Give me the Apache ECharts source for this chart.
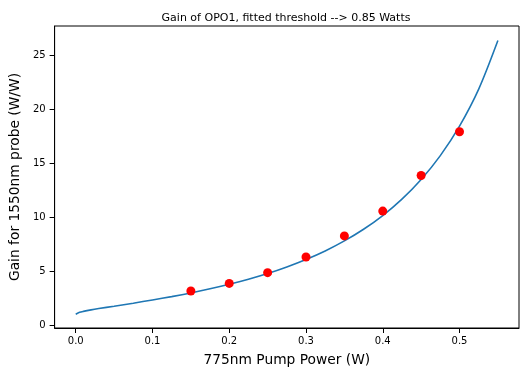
<!DOCTYPE html>
<html>
<head>
<meta charset="utf-8">
<script src="https://cdn.jsdelivr.net/npm/echarts@6/dist/echarts.min.js"></script>
<style>
  html, body { margin: 0; padding: 0; background: #fff; }
  #chart { width: 532px; height: 377px; }
</style>
</head>
<body>
<div id="chart"></div>
<script>
// fitted curve
const fitPower = [0, 0.005, 0.01, 0.02, 0.03, 0.05, 0.075, 0.1, 0.125, 0.15, 0.175, 0.2, 0.225,
  0.25, 0.275, 0.3, 0.325, 0.35, 0.375, 0.4, 0.425, 0.45, 0.475, 0.5, 0.525, 0.55]
const fitGain = [1.0, 1.17, 1.26, 1.4, 1.52, 1.74, 2.02, 2.32, 2.63, 2.97, 3.35, 3.77, 4.24,
  4.77, 5.38, 6.07, 6.86, 7.79, 8.87, 10.14, 11.66, 13.48, 15.69, 18.42, 21.85, 26.35]

// measured points
const measPower = [0.15, 0.2, 0.25, 0.3, 0.35, 0.4, 0.45, 0.5]
const measGain = [3.15, 3.85, 4.85, 6.3, 8.25, 10.55, 13.85, 17.9]

const xTicks = [0, 0.1, 0.2, 0.3, 0.4, 0.5]
const yTicks = [0, 5, 10, 15, 20, 25]

const font = 'DejaVu Sans'
const chart = echarts.init(document.getElementById('chart'))

chart.setOption({
  animation: false,
  title: {
    text: 'Gain of OPO1, fitted threshold --> 0.85 Watts',
    left: 281,
    top: 8,
    textAlign: 'center',
    textStyle: { fontFamily: font, fontSize: 11, fontWeight: 'normal', color: '#000' }
  },
  grid: {
    left: 54, right: 13, top: 26, bottom: 49,
    show: true, borderColor: '#000', borderWidth: 1
  },
  xAxis: {
    type: 'value',
    min: -0.0275,
    max: 0.5775,
    name: '775nm Pump Power (W)',
    nameLocation: 'middle',
    nameGap: 25,
    nameTextStyle: { fontFamily: font, fontSize: 13.8, color: '#000' },
    axisLine: { show: true, onZero: false, lineStyle: { color: '#000' } },
    axisTick: { show: true, length: 5, lineStyle: { color: '#000' }, customValues: xTicks },
    axisLabel: {
      fontFamily: font, fontSize: 10, color: '#000', margin: 8,
      customValues: xTicks,
      formatter: v => v.toFixed(1)
    },
    splitLine: { show: false }
  },
  yAxis: {
    type: 'value',
    min: -0.28,
    max: 27.7,
    name: 'Gain for 1550nm probe (W/W)',
    nameLocation: 'middle',
    nameGap: 30,
    nameTextStyle: { fontFamily: font, fontSize: 13.8, color: '#000' },
    axisLine: { show: true, onZero: false, lineStyle: { color: '#000' } },
    axisTick: { show: true, length: 5, lineStyle: { color: '#000' }, customValues: yTicks },
    axisLabel: {
      fontFamily: font, fontSize: 10, color: '#000', margin: 9,
      customValues: yTicks
    },
    splitLine: { show: false }
  },
  series: [
    {
      type: 'line',
      data: fitPower.map((p, i) => [p, fitGain[i]]),
      smooth: 0.3,
      showSymbol: false,
      lineStyle: { color: '#1f77b4', width: 1.6 },
      z: 1
    },
    {
      type: 'scatter',
      data: measPower.map((p, i) => [p, measGain[i]]),
      symbolSize: 9,
      itemStyle: { color: '#ff0000', opacity: 1 },
      z: 2
    }
  ]
})
</script>
</body>
</html>
